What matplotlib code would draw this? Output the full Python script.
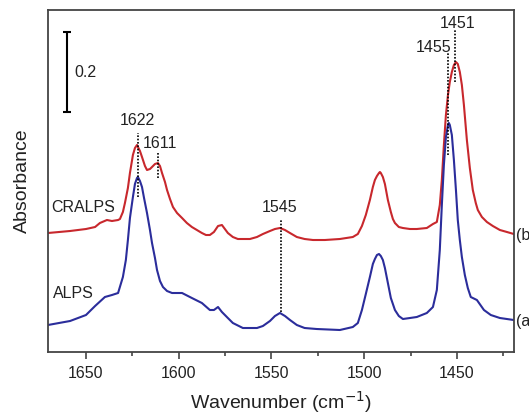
import matplotlib
matplotlib.use('Agg')
import matplotlib.pyplot as plt

plt.rcParams['font.family'] = ['Liberation Sans', 'DejaVu Sans']

# ALPS (a) - wavenumber / absorbance
alps_wn = [1670.5, 1658.6, 1650.0, 1645.1, 1639.8, 1636.0, 1632.7, 1630.1, 1628.5, 1627.4,
           1626.3, 1624.7, 1623.6, 1622.5, 1622.0, 1620.9, 1619.8, 1618.7, 1617.1, 1615.5,
           1614.4, 1612.8, 1611.7, 1610.1, 1608.5, 1606.3, 1603.6, 1598.2, 1592.9, 1587.5,
           1583.2, 1581.0, 1578.8, 1576.7, 1573.5, 1570.8, 1565.4, 1557.8, 1554.6, 1550.8,
           1548.1, 1545.4, 1542.7, 1540.0, 1536.3, 1532.1, 1525.6, 1513.1, 1506.1, 1503.4,
           1501.2, 1499.1, 1496.9, 1495.3, 1494.2, 1493.1, 1492.0, 1491.0, 1489.9, 1488.8,
           1487.2, 1485.6, 1483.4, 1481.3, 1479.1, 1475.3, 1471.6, 1466.2, 1462.9, 1460.8,
           1459.2, 1458.1, 1457.0, 1455.9, 1454.8, 1454.3, 1453.8, 1452.7, 1451.6, 1450.5,
           1449.5, 1448.4, 1447.3, 1445.7, 1444.1, 1442.5, 1439.2, 1435.4, 1431.7, 1426.8,
           1419.3]
alps_ab = [0.0675, 0.0775, 0.0925, 0.115, 0.1375, 0.1425, 0.1475, 0.1875, 0.23, 0.28,
           0.335, 0.3875, 0.42, 0.435, 0.4375, 0.4275, 0.4125, 0.385, 0.3475, 0.305,
           0.2725, 0.235, 0.205, 0.1775, 0.1625, 0.1525, 0.1475, 0.1475, 0.135, 0.1225,
           0.105, 0.105, 0.1125, 0.1, 0.085, 0.0725, 0.06, 0.06, 0.065, 0.0775,
           0.09, 0.0975, 0.09, 0.08, 0.0675, 0.06, 0.0575, 0.055, 0.0625, 0.0725,
           0.105, 0.145, 0.1875, 0.22, 0.2325, 0.2425, 0.245, 0.24, 0.23, 0.21,
           0.1725, 0.135, 0.105, 0.09, 0.0825, 0.085, 0.0875, 0.0975, 0.1125, 0.155,
           0.255, 0.3675, 0.4675, 0.5375, 0.5675, 0.5725, 0.5675, 0.5425, 0.48, 0.405,
           0.33, 0.28, 0.2375, 0.1925, 0.16, 0.1375, 0.13, 0.105, 0.0925, 0.085,
           0.08]

# CRALPS (b)
cralps_wn = [1670.5, 1658.6, 1650.0, 1645.1, 1642.5, 1638.7, 1636.0, 1632.7, 1631.7, 1630.1,
             1629.0, 1627.4, 1626.3, 1624.7, 1623.6, 1622.5, 1620.9, 1619.8, 1618.2, 1617.1,
             1615.5, 1614.4, 1612.8, 1611.2, 1610.1, 1609.0, 1607.4, 1606.3, 1604.7, 1603.1,
             1600.9, 1598.2, 1595.6, 1592.9, 1590.2, 1587.5, 1585.3, 1583.2, 1581.0, 1578.8,
             1576.7, 1575.1, 1573.5, 1570.8, 1568.1, 1565.4, 1561.6, 1557.8, 1554.6, 1550.8,
             1548.1, 1545.4, 1542.7, 1540.0, 1536.3, 1532.1, 1527.6, 1521.2, 1513.1, 1506.1,
             1503.4, 1501.2, 1499.1, 1496.9, 1495.3, 1494.2, 1493.1, 1492.0, 1491.5, 1491.0,
             1489.9, 1488.8, 1487.2, 1485.6, 1484.5, 1483.4, 1481.3, 1479.1, 1475.3, 1471.6,
             1466.2, 1462.9, 1460.8, 1459.2, 1458.1, 1457.0, 1455.9, 1454.8, 1453.8, 1452.7,
             1451.6, 1450.5, 1449.5, 1448.4, 1447.3, 1446.2, 1444.6, 1443.0, 1441.4, 1439.8,
             1438.7, 1436.5, 1433.8, 1430.6, 1426.8, 1423.0, 1419.3]
cralps_ab = [0.2975, 0.3025, 0.3075, 0.3125, 0.3225, 0.33, 0.3275, 0.33, 0.3325, 0.35,
             0.3725, 0.41, 0.4475, 0.4925, 0.51, 0.5175, 0.5025, 0.4875, 0.465, 0.455,
             0.4575, 0.4625, 0.47, 0.4725, 0.465, 0.4475, 0.425, 0.405, 0.3825, 0.3625,
             0.3475, 0.335, 0.3225, 0.3125, 0.305, 0.2975, 0.2925, 0.2925, 0.30, 0.315,
             0.3175, 0.3075, 0.2975, 0.2875, 0.2825, 0.2825, 0.2825, 0.2875, 0.295, 0.3025,
             0.3075, 0.31, 0.305, 0.2975, 0.2875, 0.2825, 0.28, 0.28, 0.2825, 0.2875,
             0.295, 0.315, 0.3425, 0.38, 0.4125, 0.43, 0.44, 0.4475, 0.45, 0.4475,
             0.4375, 0.42, 0.38, 0.35, 0.3325, 0.3225, 0.3125, 0.31, 0.3075, 0.3075,
             0.31, 0.32, 0.325, 0.3675, 0.43, 0.5175, 0.5925, 0.6425, 0.675, 0.70,
             0.7175, 0.725, 0.72, 0.70, 0.6675, 0.6175, 0.53, 0.46, 0.405, 0.3725,
             0.355, 0.3375, 0.325, 0.315, 0.305, 0.30, 0.295]

# peak marks: wavenumber, line bottom, line top, label x, label y
peak_wn = [1622, 1611, 1545, 1455, 1451]
line_lo = [0.3875, 0.435, 0.10, 0.4925, 0.675]
line_hi = [0.5475, 0.50, 0.33, 0.7475, 0.805]
label_x = [1622.5, 1610.0, 1545.4, 1462.4, 1449.5]
label_y = [0.58, 0.5225, 0.3625, 0.7625, 0.8225]

xticks = [1650, 1600, 1550, 1500, 1450]
xticks_minor = [1625, 1575, 1525, 1475, 1425]

fig = plt.figure(figsize=(5.29, 4.15), dpi=100)
ax = fig.add_axes([0.0907, 0.1518, 0.8809, 0.8241])

ax.plot(cralps_wn, cralps_ab, color='#c8282d', lw=1.5, solid_joinstyle='round')
ax.plot(alps_wn, alps_ab, color='#2b2d9b', lw=1.5, solid_joinstyle='round')

for wn, lo, hi, lx, ly in zip(peak_wn, line_lo, line_hi, label_x, label_y):
    ax.plot([wn, wn], [lo, hi], color='k', lw=1.2, ls=(0, (1, 1)))
    ax.text(lx, ly, str(wn), ha='center', va='center', fontsize=11.5, color='#222222')

# scale bar
ax.errorbar([1660.2], [0.7], yerr=[0.1], color='k', capsize=3, lw=1.5, capthick=1.5)
ax.text(1656.0, 0.7, '0.2', ha='left', va='center', fontsize=11.5, color='#222222')

ax.text(1668.9, 0.3625, 'CRALPS', ha='left', va='center', fontsize=11.5, color='#222222')
ax.text(1667.8, 0.1475, 'ALPS', ha='left', va='center', fontsize=11.5, color='#222222')
# (b)/(a) run past the figure edge, as in the original
ax.text(1.005, 0.2925 / 0.855, '(b)', transform=ax.transAxes, ha='left', va='center',
        fontsize=11.5, color='#222222')
ax.text(1.005, 0.0775 / 0.855, '(a)', transform=ax.transAxes, ha='left', va='center',
        fontsize=11.5, color='#222222')

ax.set_xlim(1670.5, 1419.2)
ax.set_ylim(0, 0.855)
ax.set_xticks(xticks)
ax.set_xticks(xticks_minor, minor=True)
ax.set_yticks([])
ax.tick_params(axis='x', which='major', direction='out', length=5, width=1.2,
               labelsize=11.5, colors='#444444', labelcolor='#222222', pad=5)
ax.tick_params(axis='x', which='minor', direction='out', length=3, width=1.2, colors='#444444')
for s in ax.spines.values():
    s.set_color('#444444')
    s.set_linewidth(1.3)

ax.set_xlabel('Wavenumber (cm$^{-1}$)', fontsize=14, color='#222222', labelpad=6)
ax.set_ylabel('Absorbance', fontsize=14, color='#222222', labelpad=12)

fig.savefig('out.png', dpi=100)
